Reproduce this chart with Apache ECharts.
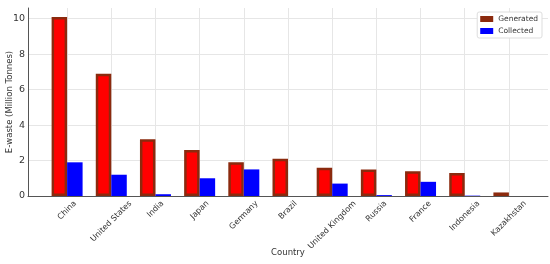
<!DOCTYPE html>
<html>
<head>
<meta charset="utf-8">
<script src="https://cdn.jsdelivr.net/npm/echarts@6/dist/echarts.min.js"></script>
<style>
html, body { margin: 0; padding: 0; background: #fff; }
#chart { width: 550px; height: 264px; }
</style>
</head>
<body>
<div id="chart"></div>
<script>
// 数据
var countries = ['China', 'United States', 'India', 'Japan', 'Germany', 'Brazil',
	'United Kingdom', 'Russia', 'France', 'Indonesia', 'Kazakhstan'];
var generated = [10.1, 6.9, 3.2, 2.6, 1.9, 2.1, 1.6, 1.5, 1.4, 1.3, 0.2];
var collected = [1.9, 1.2, 0.1, 1.0, 1.5, 0, 0.7, 0.05, 0.8, 0.02, 0];
var yTicks = [0, 2, 4, 6, 8, 10];

var tickPos = countries.map(function(c, i) { return i; });
function toPoints(arr) {
	return arr.map(function(v, i) { return [i, v]; });
}

// 旋转标签居中于刻度（类似 matplotlib ha=center）
var labelFont = 8;
var ctx = document.createElement('canvas').getContext('2d');
ctx.font = labelFont + 'px "DejaVu Sans"';
var rich = {};
countries.forEach(function(c, i) {
	var L = ctx.measureText(c).width;
	var d = (L + labelFont * 1.15) / 4;
	rich['c' + i] = {
		fontSize: labelFont,
		color: '#333',
		padding: [2 * d, 2 * d, 0, 0]
	};
});

var chart = echarts.init(document.getElementById('chart'));
var option = {
	animation: false,
	textStyle: { fontFamily: 'DejaVu Sans' },
	grid: {
		left: 28,
		right: 2,
		top: 8,
		bottom: 68,
		outerBoundsMode: 'none',
		containLabel: false
	},
	legend: {
		right: 8,
		top: 12,
		orient: 'vertical',
		itemWidth: 13,
		itemHeight: 6,
		itemGap: 4,
		padding: [3, 4, 3, 3],
		borderColor: '#dddddd',
		borderWidth: 1,
		borderRadius: 2,
		backgroundColor: '#ffffff',
		textStyle: { fontSize: 7.5, color: '#333' },
		data: [
			{ name: 'Generated', icon: 'rect', itemStyle: { color: '#8b2a0e', borderWidth: 0 } },
			{ name: 'Collected', icon: 'rect' }
		]
	},
	xAxis: {
		type: 'value',
		min: -0.885,
		max: 10.885,
		name: 'Country',
		nameLocation: 'middle',
		nameGap: 52,
		nameMoveOverlap: false,
		nameTextStyle: { fontSize: 8.5, color: '#333' },
		axisLine: { show: true, onZero: false, lineStyle: { color: '#555', width: 1 } },
		axisTick: { show: false, customValues: tickPos },
		axisLabel: {
			customValues: tickPos,
			rotate: 45,
			align: 'center',
			verticalAlign: 'middle',
			fontSize: labelFont,
			color: '#333',
			margin: 3,
			hideOverlap: false,
			formatter: function(v) {
				var i = Math.round(v);
				return '{c' + i + '|' + countries[i] + '}';
			},
			rich: rich
		},
		splitLine: { show: true, lineStyle: { color: '#e6e6e6', width: 1 } }
	},
	yAxis: {
		type: 'value',
		min: 0,
		max: 10.605,
		name: 'E-waste (Million Tonnes)',
		nameLocation: 'middle',
		nameGap: 14,
		nameMoveOverlap: false,
		nameTextStyle: { fontSize: 8.5, color: '#333' },
		axisLine: { show: true, onZero: false, lineStyle: { color: '#555', width: 1 } },
		axisTick: { show: false, customValues: yTicks },
		axisLabel: { customValues: yTicks, fontSize: 9.5, color: '#333', margin: 3 },
		splitLine: { show: true, lineStyle: { color: '#e6e6e6', width: 1 } }
	},
	series: [{
		name: 'Generated',
		type: 'bar',
		barWidth: 15.5,
		barGap: '0%',
		itemStyle: { color: '#ff0000', borderColor: '#8b2a0e', borderWidth: 2.5 },
		data: toPoints(generated)
	}, {
		name: 'Collected',
		type: 'bar',
		barWidth: 15.5,
		barGap: '0%',
		itemStyle: { color: '#0000ff' },
		data: toPoints(collected)
	}]
};
chart.setOption(option);
</script>
</body>
</html>
